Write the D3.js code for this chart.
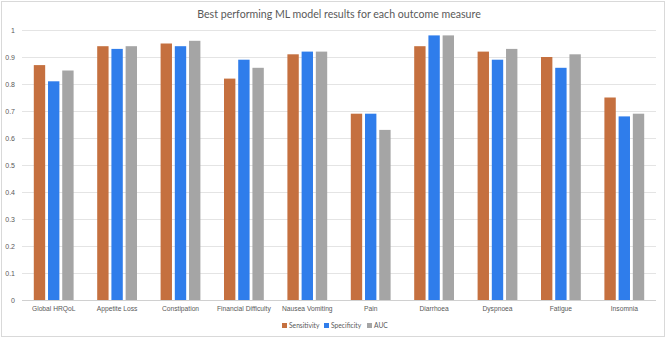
<!DOCTYPE html>
<html>
<head>
<meta charset="utf-8">
<script src="https://cdn.jsdelivr.net/npm/d3@7"></script>
<style>
  body { margin: 0; background: #fff; }
  svg { display: block; font-family: Lato, "Open Sans", sans-serif; }
</style>
</head>
<body>
<div id="chart"></div>
<script>
// outcome measures on the x axis
const outcomes = ["Global HRQoL", "Appetite Loss", "Constipation", "Financial Difficulty",
                  "Nausea Vomiting", "Pain", "Diarrhoea", "Dyspnoea", "Fatigue", "Insomnia"];
const seriesNames = ["Sensitivity", "Specificity", "AUC"];
const sensitivity = [0.87, 0.94, 0.95, 0.82, 0.91, 0.69, 0.94, 0.92, 0.90, 0.75];
const specificity = [0.81, 0.93, 0.94, 0.89, 0.92, 0.69, 0.98, 0.89, 0.86, 0.68];
const auc = [0.85, 0.94, 0.96, 0.86, 0.92, 0.63, 0.98, 0.93, 0.91, 0.69];
const yTicks = [0, 0.1, 0.2, 0.3, 0.4, 0.5, 0.6, 0.7, 0.8, 0.9, 1];
const colors = ["#C5703F", "#2F7DEB", "#A5A5A5"];

const width = 666, height = 338;
const margin = {top: 30, right: 10, bottom: 38, left: 22};

const svg = d3.select("#chart").append("svg")
    .attr("width", width)
    .attr("height", height);

// chart frame
svg.append("rect")
    .attr("x", 1.5).attr("y", 1.5)
    .attr("width", width - 3).attr("height", height - 3)
    .attr("fill", "#fff").attr("stroke", "#D9D9D9");

let x = d3.scaleBand()
    .domain(outcomes)
    .range([margin.left, width - margin.right]);

let xInner = d3.scaleBand()
    .domain(seriesNames)
    .range([0, x.bandwidth()])
    .paddingInner(0.2)
    .paddingOuter(0.83);

let y = d3.scaleLinear()
    .domain([0, 1])
    .range([height - margin.bottom, margin.top]);

// gridlines
svg.append("g").selectAll("line").data(yTicks).enter().append("line")
    .attr("x1", margin.left).attr("x2", width - margin.right)
    .attr("y1", d => y(d) + 0.5).attr("y2", d => y(d) + 0.5)
    .attr("stroke", d => d === 0 ? "#D0D0D0" : "#E4E4E4");

let yAxis = svg.append("g")
    .attr("transform", "translate(" + (margin.left - 4) + ",0)")
    .call(d3.axisLeft(y).tickValues(yTicks).tickSize(0).tickFormat(d3.format("")));
yAxis.select(".domain").remove();
yAxis.selectAll("text").attr("fill", "#595959").style("font-size", "7px");

let xAxis = svg.append("g")
    .attr("transform", "translate(0," + (height - margin.bottom) + ")")
    .call(d3.axisBottom(x).tickSize(0).tickPadding(6));
xAxis.select(".domain").remove();
xAxis.selectAll("text").attr("fill", "#595959").style("font-size", "6.7px");

let series = [sensitivity, specificity, auc];
let groups = svg.append("g").selectAll("g").data(outcomes).enter().append("g")
    .attr("transform", d => "translate(" + x(d) + ",0)");

groups.selectAll("rect")
    .data((d, i) => seriesNames.map((s, j) => ({s: s, v: series[j][i], c: colors[j]})))
    .enter().append("rect")
    .attr("x", d => xInner(d.s))
    .attr("width", xInner.bandwidth())
    .attr("y", d => y(d.v))
    .attr("height", d => y(0) - y(d.v))
    .attr("fill", d => d.c);

// title
svg.append("text")
    .attr("x", (margin.left + width - margin.right) / 2)
    .attr("y", 18)
    .attr("text-anchor", "middle")
    .attr("fill", "#595959")
    .style("font-size", "10.6px")
    .text("Best performing ML model results for each outcome measure");

// legend
let legendX = [282, 324, 367];
let legend = svg.append("g").selectAll("g").data(seriesNames).enter().append("g")
    .attr("transform", (d, i) => "translate(" + legendX[i] + ",323)");
legend.append("rect")
    .attr("width", 5).attr("height", 5)
    .attr("fill", (d, i) => colors[i]);
legend.append("text")
    .attr("x", 7).attr("y", 5)
    .attr("fill", "#595959")
    .style("font-size", "6.7px")
    .text(d => d);
</script>
</body>
</html>
